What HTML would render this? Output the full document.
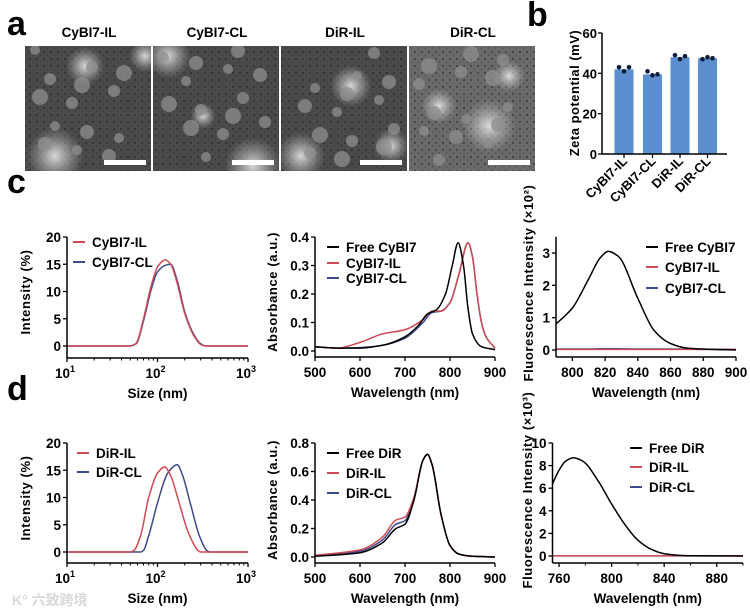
<!DOCTYPE html>
<html><head><meta charset="utf-8"><style>
body{margin:0;background:#fff;}
svg{display:block;font-family:"Liberation Sans",Arial,sans-serif;font-weight:bold;}
</style></head><body>
<svg id="fig" width="750" height="615" viewBox="0 0 750 615" xmlns="http://www.w3.org/2000/svg">
<defs>
<radialGradient id="blob" cx="50%" cy="50%" r="50%"><stop offset="0" stop-color="#e8e8e8" stop-opacity="0.9"/><stop offset="1" stop-color="#bbb" stop-opacity="0"/></radialGradient>
<pattern id="dots" width="7" height="7" patternUnits="userSpaceOnUse"><circle cx="2" cy="3" r="1.1" fill="#222"/><circle cx="5.5" cy="6" r="0.7" fill="#2a2a2a"/></pattern>
<clipPath id="clip0"><rect x="25" y="46" width="126" height="125"/></clipPath>
<clipPath id="clip1"><rect x="153" y="46" width="126" height="125"/></clipPath>
<clipPath id="clip2"><rect x="281" y="46" width="126" height="125"/></clipPath>
<clipPath id="clip3"><rect x="409" y="46" width="126" height="125"/></clipPath>
</defs>
</svg>
<script>
const NS='http://www.w3.org/2000/svg';
const svg=document.getElementById('fig');
function mk(tag,attrs,name,parent){const el=document.createElementNS(NS,tag);for(const k in attrs)el.setAttribute(k,attrs[k]);


(parent||svg).appendChild(el);return el;}
function txt(x,y,s,size,name,anchor,extra){const t=mk('text',Object.assign({x:x,y:y,'font-size':size,'text-anchor':anchor||'middle',fill:'#000'},extra||{}),name);t.textContent=s;return t;}

// ---------- data ----------
const temTitles=['CyBI7-IL','CyBI7-CL','DiR-IL','DiR-CL'];
const zetaCats=['CyBI7-IL','CyBI7-CL','DiR-IL','DiR-CL'];
const zetaMeans=[42,39.5,48,47.5];
const zetaPts=[[43,41,43],[41,39,39.5],[49,47,48.5],[47,48,47.5]];

const dlsX=[10,50,58,70,85,100,122,140,165,200,250,300,340,1000];
const dlsCyIL=[0,0,0.5,5,11,14.5,15.8,15,11.5,6,2,0.3,0,0];
const dlsCyCL=[0,0,0.4,4.6,10.3,13.6,14.8,15,12,6.3,2.2,0.4,0,0];
const dlsX2=[10,50,55,65,80,100,120,140,170,220,280,300,1000];
const dlsDiRIL=[0,0,0.3,3,10,14.5,15.6,14,9.5,3.5,0.3,0,0];
const dlsX3=[10,65,70,80,100,130,165,190,230,290,350,380,1000];
const dlsDiRCL=[0,0,0.3,3,9,14.5,16,14,9,3,0.3,0,0];

const absX=[500,550,600,650,700,730,750,770,790,805,818,830,840,850,870,900];
const absFree=[0.015,0.01,0.01,0.02,0.05,0.09,0.13,0.145,0.2,0.3,0.38,0.3,0.15,0.06,0.015,0.005];
const absX2=[500,550,600,650,700,740,760,780,800,820,840,850,860,870,880,900];
const absIL=[0.015,0.01,0.03,0.06,0.075,0.11,0.14,0.14,0.17,0.27,0.38,0.33,0.2,0.1,0.05,0.01];
const absCL=[0.015,0.01,0.012,0.02,0.045,0.1,0.135,0.14,0.17,0.27,0.38,0.33,0.2,0.1,0.05,0.01];

const flX=[790,800,810,817,822,828,840,850,860,870,880,900];
const flFree=[0.8,1.3,2.2,2.85,3.05,2.9,1.6,0.6,0.2,0.06,0.03,0.0];
const flIL=[0.02,0.02,0.02,0.02,0.02,0.02,0.02,0.02,0.02,0.02,0.02,0.02];
const flCL=[0.03,0.03,0.03,0.04,0.04,0.04,0.03,0.03,0.03,0.03,0.02,0.02];

const dabsX=[500,600,650,680,700,720,740,750,760,780,800,820,850,900];
const dabsFree=[0.005,0.03,0.1,0.2,0.23,0.4,0.68,0.72,0.65,0.3,0.08,0.02,0.005,0];
const dabsIL=[0.012,0.05,0.14,0.26,0.28,0.42,0.68,0.72,0.65,0.3,0.08,0.02,0.005,0];
const dabsCL=[0.008,0.04,0.12,0.23,0.255,0.41,0.68,0.72,0.65,0.3,0.08,0.02,0.005,0];

const dflX=[755,760,765,771,778,790,800,810,820,830,840,860,900];
const dflFree=[6.4,7.6,8.4,8.7,8.4,6.6,4.6,2.8,1.4,0.6,0.2,0.02,0];
const dflIL=[0.02,0.02,0.02,0.02,0.02,0.02,0.02,0.02,0.02,0.02,0.02,0.02,0.02];
const dflCL=[0.01,0.01,0.01,0.01,0.01,0.01,0.01,0.01,0.01,0.01,0.01,0.01,0.01];

const RED='#cf4a55', BLUE='#3d4b8c', BLK='#000';

// ---------- panel labels ----------
txt(7,35,'a',34,'panel-label-a','start');
txt(527,26,'b',34,'panel-label-b','start');
txt(7,193,'c',34,'panel-label-c','start');
txt(7,400,'d',34,'panel-label-d','start');

// ---------- panel a TEM ----------
const temX=[25,153,281,409];
const blobs=[[[30,110,18],[60,20,12],[120,10,10]],[[15,10,14],[100,120,18],[50,70,8]],[[70,40,13],[20,110,15],[110,100,11]],[[80,80,17],[30,60,11],[100,30,10]]];
temX.forEach((x,i)=>{
 const g=mk('g',{'clip-path':`url(#clip${i})`},'tem-image-'+(i+1));
 mk('rect',{x:x,y:46,width:126,height:125,fill:i==3?'#6a6a6a':'#4a4a4a'},'tem-background',g);
 mk('rect',{x:x,y:46,width:126,height:125,fill:'url(#dots)',opacity:0.55},'tem-dots',g);
 blobs[i].forEach(b=>mk('circle',{cx:x+b[0],cy:46+b[1],r:b[2]*1.6,fill:'url(#blob)'},'tem-bright-region',g));
 for(let k=0;k<14;k++){const cx=x+10+((k*37+i*23)%106),cy=50+((k*53+i*31)%112);
  mk('circle',{cx:cx,cy:cy,r:5+(k%4),fill:'#8f8f8f',opacity:0.75},'tem-particle',g);}
 mk('rect',{x:x+79,y:160,width:42,height:5,fill:'#fff'},'scale-bar',g);
 txt(x+64,37,temTitles[i],13.5,'tem-title-'+(i+1));
});

// ---------- panel b bar chart ----------
const bX0=602,bX1=727,bY0=154,bY60=33;
const bY=v=>bY0+(bY60-bY0)*v/60;
const bCx=[624,652.5,680,707.5];
zetaMeans.forEach((v,i)=>{
 mk('rect',{x:bCx[i]-9.5,y:bY(v),width:19,height:bY0-bY(v),fill:'#5b8fd0'},'bar-'+zetaCats[i].toLowerCase());
 zetaPts[i].forEach((p,j)=>mk('circle',{cx:bCx[i]-5+j*5,cy:bY(p),r:2.3,fill:'#0d1b3a'},'data-point'));
 mk('line',{x1:bCx[i],y1:bY0,x2:bCx[i],y2:bY0+4,stroke:'#000','stroke-width':1.3},'x-tick');
 txt(bCx[i]+4,162,zetaCats[i],13,'x-label-'+zetaCats[i].toLowerCase(),'end',{transform:`rotate(-45 ${bCx[i]+4} 162)`});
});
mk('line',{x1:bX0,y1:bY60,x2:bX0,y2:bY0,stroke:'#000','stroke-width':1.5},'y-axis');
mk('line',{x1:bX0,y1:bY0,x2:bX1,y2:bY0,stroke:'#000','stroke-width':1.5},'x-axis');
[0,20,40,60].forEach(v=>{mk('line',{x1:bX0-4,y1:bY(v),x2:bX0,y2:bY(v),stroke:'#000','stroke-width':1.3},'y-tick');
 txt(bX0-5,bY(v)+5,String(v),13,'y-tick-label','end');});
txt(579,93,'Zeta potential (mV)',13,'y-axis-title','middle',{transform:'rotate(-90 579 93)','letter-spacing':'0.5'});

// ---------- monotone cubic path ----------
function smoothPath(p){const n=p.length;const dx=[],m=[],t=[];
 for(let i=0;i<n-1;i++){dx.push(p[i+1][0]-p[i][0]);m.push((p[i+1][1]-p[i][1])/(dx[i]||1e-9));}
 t[0]=m[0];t[n-1]=m[n-2];
 for(let i=1;i<n-1;i++){t[i]=(m[i-1]*m[i]<=0)?0:(3*(dx[i-1]+dx[i]))/((2*dx[i]+dx[i-1])/m[i-1]+(dx[i]+2*dx[i-1])/m[i]);}
 let d='M'+p[0][0].toFixed(1)+','+p[0][1].toFixed(1);
 for(let i=0;i<n-1;i++){const h=dx[i]/3;
  d+=` C${(p[i][0]+h).toFixed(1)},${(p[i][1]+t[i]*h).toFixed(1)} ${(p[i+1][0]-h).toFixed(1)},${(p[i+1][1]-t[i+1]*h).toFixed(1)} ${p[i+1][0].toFixed(1)},${p[i+1][1].toFixed(1)}`;}
 return d;}
function chart(c){
 const g=mk('g',{},c.name);
 const lx=v=>c.log?Math.log10(v):v;
 const X=v=>c.px0+(lx(v)-lx(c.xmin))/(lx(c.xmax)-lx(c.xmin))*(c.px1-c.px0);
 const Y=v=>c.py0+(v-c.y0v)/(c.y1v-c.y0v)*(c.py1-c.py0);
 c.series.slice().reverse().forEach(s=>{const pts=s.x.map((xv,i)=>[X(xv),Y(s.y[i])]);
  mk('path',{d:smoothPath(pts),fill:'none',stroke:s.color,'stroke-width':1.5},'series-'+s.label.toLowerCase().replace(/\s+/g,'-'),g);});
 const ax=c.axisY, yTop=Y(c.ytop);
 mk('line',{x1:c.px0,y1:yTop,x2:c.px0,y2:ax,stroke:'#000','stroke-width':1.5},'y-axis',g);
 mk('line',{x1:c.px0,y1:ax,x2:c.px1,y2:ax,stroke:'#000','stroke-width':1.5},'x-axis',g);
 c.yticks.forEach((v,i)=>{mk('line',{x1:c.px0-4,y1:Y(v),x2:c.px0,y2:Y(v),stroke:'#000','stroke-width':1.3},'y-tick',g);
  txt(c.px0-6,Y(v)+5,c.ylabels[i],13.5,'y-tick-label','end');});
 c.xticks.forEach((v,i)=>{mk('line',{x1:X(v),y1:ax,x2:X(v),y2:ax+4,stroke:'#000','stroke-width':1.3},'x-tick',g);
  if(c.log){const t=txt(X(v)-2,ax+20,'10',13.5,'x-tick-label');const sp=document.createElementNS(NS,'tspan');sp.setAttribute('dy','-6');sp.setAttribute('font-size','9');sp.textContent=c.xlabels[i];t.appendChild(sp);}
  else txt(X(v),ax+20,c.xlabels[i],13.5,'x-tick-label');});
 (c.minor||[]).forEach(v=>mk('line',{x1:X(v),y1:ax,x2:X(v),y2:ax+2.5,stroke:'#000','stroke-width':1},'x-minor-tick',g));
 txt((c.px0+c.px1)/2,ax+40,c.xtitle,13.5,'x-axis-title');
 txt(c.ytx,c.yty,c.ytitle,13,'y-axis-title','middle',{transform:`rotate(-90 ${c.ytx} ${c.yty})`,'letter-spacing':'0.6'});
 c.series.forEach((s,i)=>{const ly=c.legY[i];
  mk('line',{x1:c.legX,y1:ly,x2:c.legX+12,y2:ly,stroke:s.color,'stroke-width':2},'legend-swatch',g);
  txt(c.legX+19,ly+5,s.label,13.5,'legend-entry','start');});
}
const logMinor=[20,30,40,50,60,70,80,90,200,300,400,500,600,700,800,900];
chart({name:'chart-c-dls',log:true,px0:67,px1:248,xmin:10,xmax:1000,py0:346,py1:237,y0v:0,y1v:20,ytop:20,axisY:358,
 yticks:[0,5,10,15,20],ylabels:['0','5','10','15','20'],xticks:[10,100,1000],xlabels:['1','2','3'],minor:logMinor,
 xtitle:'Size (nm)',ytitle:'Intensity (%)',ytx:30,yty:292,legX:73,legY:[242,262],
 series:[{label:'CyBI7-IL',color:RED,x:dlsX,y:dlsCyIL},{label:'CyBI7-CL',color:BLUE,x:dlsX,y:dlsCyCL}]});
chart({name:'chart-c-absorbance',px0:315,px1:495,xmin:500,xmax:900,py0:351,py1:237,y0v:0,y1v:0.4,ytop:0.4,axisY:357,
 yticks:[0,0.1,0.2,0.3,0.4],ylabels:['0.0','0.1','0.2','0.3','0.4'],xticks:[500,600,700,800,900],xlabels:['500','600','700','800','900'],
 xtitle:'Wavelength (nm)',ytitle:'Absorbance (a.u.)',ytx:277,yty:292,legX:327,legY:[247,263,278],
 series:[{label:'Free CyBI7',color:BLK,x:absX,y:absFree},{label:'CyBI7-IL',color:RED,x:absX2,y:absIL},{label:'CyBI7-CL',color:BLUE,x:absX2,y:absCL}]});
chart({name:'chart-c-fluorescence',px0:556,px1:736,xmin:790,xmax:900,py0:350,py1:253,y0v:0,y1v:3,ytop:3.5,axisY:357,
 yticks:[0,1,2,3],ylabels:['0','1','2','3'],xticks:[800,820,840,860,880,900],xlabels:['800','820','840','860','880','900'],
 xtitle:'Wavelength (nm)',ytitle:'Fluorescence Intensity (×10²)',ytx:533,yty:283,legX:646,legY:[247,267,288],
 series:[{label:'Free CyBI7',color:BLK,x:flX,y:flFree},{label:'CyBI7-IL',color:RED,x:flX,y:flIL},{label:'CyBI7-CL',color:BLUE,x:flX,y:flCL}]});
chart({name:'chart-d-dls',log:true,px0:67,px1:248,xmin:10,xmax:1000,py0:552,py1:443,y0v:0,y1v:20,ytop:20,axisY:563,
 yticks:[0,5,10,15,20],ylabels:['0','5','10','15','20'],xticks:[10,100,1000],xlabels:['1','2','3'],minor:logMinor,
 xtitle:'Size (nm)',ytitle:'Intensity (%)',ytx:30,yty:498,legX:77,legY:[453,472],
 series:[{label:'DiR-IL',color:RED,x:dlsX2,y:dlsDiRIL},{label:'DiR-CL',color:BLUE,x:dlsX3,y:dlsDiRCL}]});
chart({name:'chart-d-absorbance',px0:315,px1:495,xmin:500,xmax:900,py0:557,py1:443,y0v:0,y1v:0.8,ytop:0.8,axisY:563,
 yticks:[0,0.2,0.4,0.6,0.8],ylabels:['0.0','0.2','0.4','0.6','0.8'],xticks:[500,600,700,800,900],xlabels:['500','600','700','800','900'],
 xtitle:'Wavelength (nm)',ytitle:'Absorbance (a.u.)',ytx:277,yty:500,legX:327,legY:[453,473,493],
 series:[{label:'Free DiR',color:BLK,x:dabsX,y:dabsFree},{label:'DiR-IL',color:RED,x:dabsX,y:dabsIL},{label:'DiR-CL',color:BLUE,x:dabsX,y:dabsCL}]});
chart({name:'chart-d-fluorescence',px0:552.5,px1:743,xmin:755,xmax:900,py0:556,py1:443,y0v:0,y1v:10,ytop:10,axisY:563,
 yticks:[0,2,4,6,8,10],ylabels:['0','2','4','6','8','10'],xticks:[760,800,840,880],xlabels:['760','800','840','880'],minor:[780,820,860,900],
 xtitle:'Wavelength (nm)',ytitle:'Fluorescence Intensity (×10³)',ytx:532,yty:490,legX:630,legY:[448,467,487],
 series:[{label:'Free DiR',color:BLK,x:dflX,y:dflFree},{label:'DiR-IL',color:RED,x:dflX,y:dflIL},{label:'DiR-CL',color:BLUE,x:dflX,y:dflCL}]});

txt(12,605,'K° 六致跨境',14,'watermark','start',{fill:'#d8d8d8','font-family':'"Liberation Sans","Noto Sans CJK SC",sans-serif'});
</script>
</body></html>
